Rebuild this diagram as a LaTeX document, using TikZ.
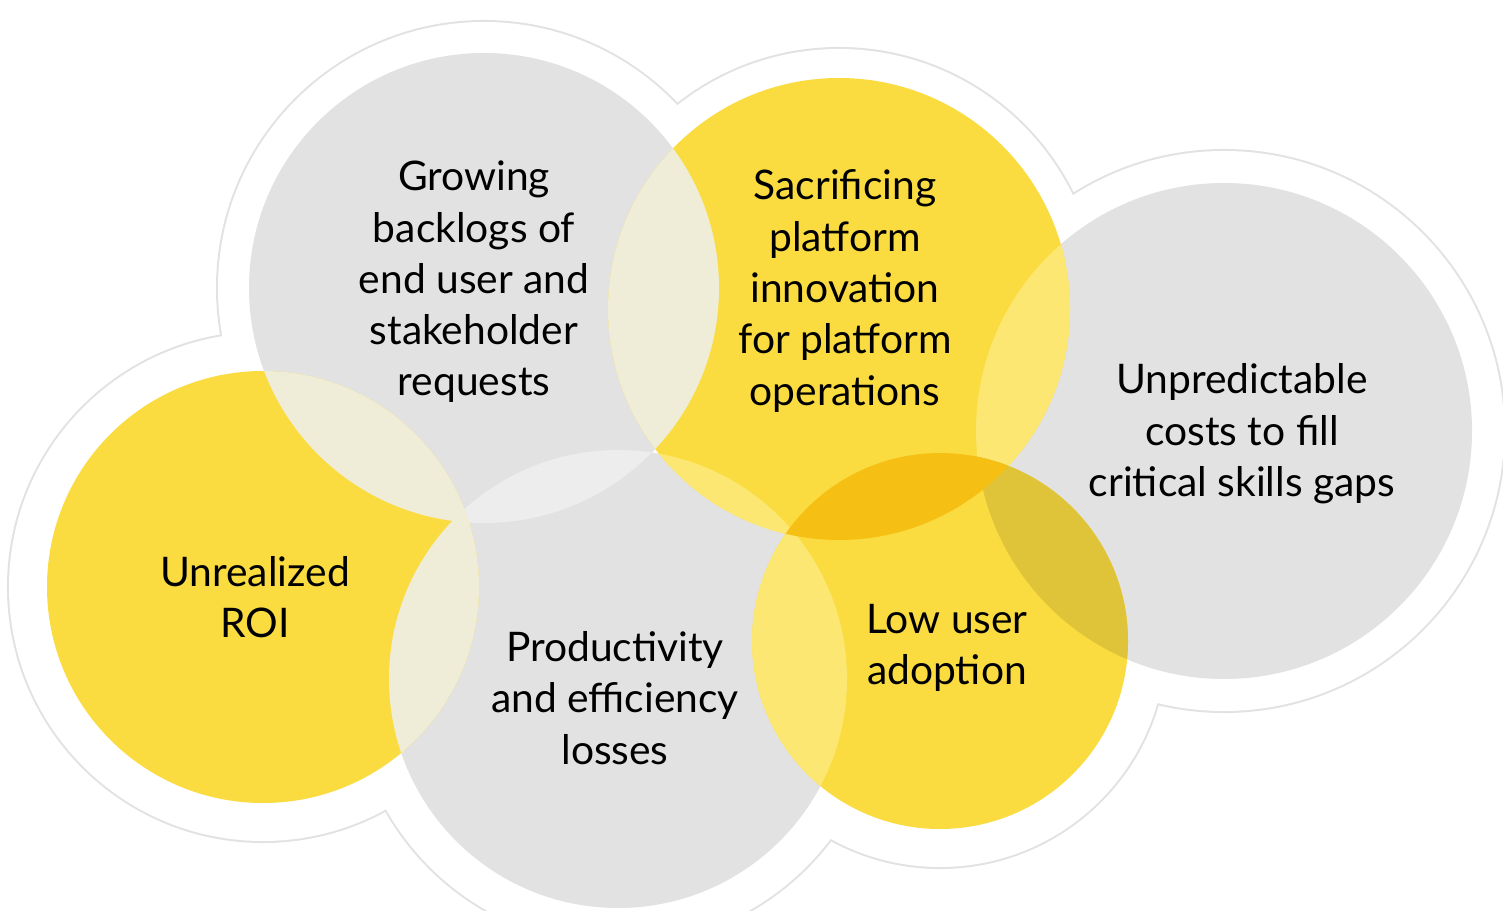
\documentclass[tikz,border=0pt]{standalone}
\usepackage{fontspec}
\setmainfont{Lato}
\definecolor{cgray}{HTML}{E2E2E2}
\definecolor{cyel}{HTML}{FBDC40}
\definecolor{ccream}{HTML}{EFEDD8}
\definecolor{cgg}{HTML}{EDEDED}
\definecolor{cly}{HTML}{FCE772}
\definecolor{corange}{HTML}{F6BF13}
\definecolor{colive}{HTML}{DFC43A}
\definecolor{cline}{HTML}{E2E2E2}
\begin{document}
\begin{tikzpicture}[x=0.02cm,y=0.02cm,
  txt/.style={align=center, font=\fontsize{23.2}{29.2}\selectfont, text=black, inner sep=0pt}]
\useasboundingbox (0,0) rectangle (1503,910);
\coordinate (c1) at (484,622);
\coordinate (c2) at (839,601);
\coordinate (c3) at (1224,479);
\coordinate (c4) at (263,323);
\coordinate (c5) at (618,231);
\coordinate (c6) at (940,269);
% cloud outline
\begin{scope}
\clip (0,0) rectangle (1503,910);
\foreach \c/\r in {c1/266,c2/260,c3/280,c4/254,c5/266,c6/226}
  \draw[cline, line width=2.3pt] (\c) circle (\r);
\foreach \c/\r in {c1/266,c2/260,c3/280,c4/254,c5/266,c6/226}
  \fill[white] (\c) circle (\r);
\end{scope}
% base circles
\fill[cgray] (c1) circle (235);
\fill[cgray] (c3) circle (248);
\fill[cgray] (c5) circle (229);
\fill[cyel] (c2) circle (231);
\fill[cyel] (c4) circle (216);
\fill[cyel] (c6) circle (188);
% overlaps
\begin{scope}\clip (c1) circle (235); \fill[cgg] (c5) circle (229);\end{scope}
\begin{scope}\clip (c1) circle (235); \fill[ccream] (c2) circle (231);\end{scope}
\begin{scope}\clip (c1) circle (235); \fill[ccream] (c4) circle (216);\end{scope}
\begin{scope}\clip (c4) circle (216); \fill[ccream] (c5) circle (229);\end{scope}
\begin{scope}\clip (c2) circle (231); \fill[cly] (c5) circle (229);\end{scope}
\begin{scope}\clip (c5) circle (229); \fill[cly] (c6) circle (188);\end{scope}
\begin{scope}\clip (c2) circle (231); \fill[cly] (c3) circle (248);\end{scope}
\begin{scope}\clip (c3) circle (248); \fill[colive] (c6) circle (188);\end{scope}
\begin{scope}\clip (c2) circle (231); \fill[corange] (c6) circle (188);\end{scope}
% texts
\node[txt] (t1) at (474,628) {Growing\\backlogs of\\end user and\\stakeholder\\requests};
\node[txt] (t2) at (845,619) {Sacrificing\\platform\\innovation\\for platform\\operations};
\node[txt] (t3) at (1242,476) {Unpredictable\\costs to fill\\critical skills gaps};
\node[txt] (t4) at (255,313) {Unrealized\\ROI};
\node[txt] (t5) at (615,212) {Productivity\\and efficiency\\losses};
\node[txt] (t6) at (947,262) {Low user\\adoption};
\end{tikzpicture}
\end{document}
